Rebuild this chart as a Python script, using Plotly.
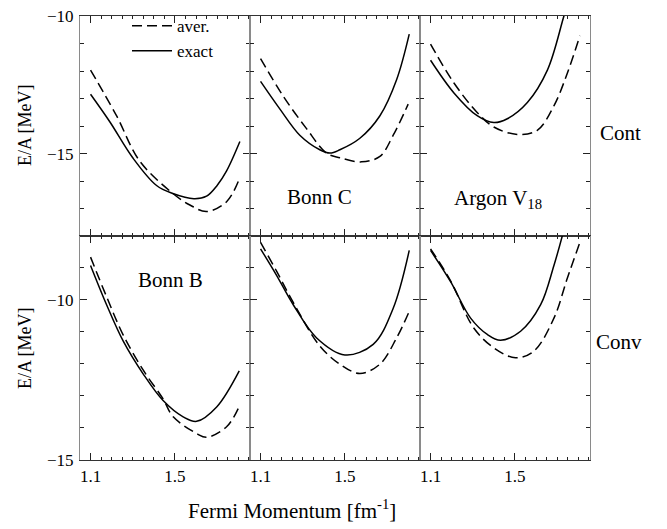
import plotly.graph_objects as go

# ---------------- data ----------------
# Column panels: Bonn B, Bonn C, Argon V18 ; rows: Cont (top), Conv (bottom)
bonnb_cont_aver_x = [1.10, 1.223, 1.334, 1.492, 1.571, 1.650, 1.745, 1.808]
bonnb_cont_aver_y = [-11.96, -13.62, -15.28, -16.46, -16.87, -17.11, -16.75, -15.87]
bonnb_cont_exact_x = [1.10, 1.192, 1.30, 1.413, 1.49, 1.59, 1.65, 1.70, 1.745, 1.808]
bonnb_cont_exact_y = [-12.84, -13.85, -15.15, -16.16, -16.45, -16.64, -16.55, -16.16, -15.63, -14.56]

bonnc_cont_aver_x = [1.10, 1.207, 1.318, 1.413, 1.476, 1.579, 1.666, 1.729, 1.80]
bonnc_cont_aver_y = [-11.54, -12.90, -14.09, -14.98, -15.15, -15.30, -15.10, -14.33, -13.20]
bonnc_cont_exact_x = [1.10, 1.192, 1.286, 1.381, 1.429, 1.476, 1.571, 1.666, 1.745, 1.805]
bonnc_cont_exact_y = [-12.37, -13.38, -14.33, -14.86, -14.98, -14.86, -14.44, -13.62, -12.31, -10.65]

argon_cont_aver_x = [1.10, 1.211, 1.321, 1.40, 1.511, 1.606, 1.685, 1.748, 1.808]
argon_cont_aver_y = [-11.01, -12.43, -13.50, -14.03, -14.30, -14.15, -13.26, -12.08, -10.71]
argon_cont_exact_x = [1.10, 1.211, 1.321, 1.40, 1.464, 1.559, 1.654, 1.732, 1.77]
argon_cont_exact_y = [-11.60, -12.79, -13.62, -13.87, -13.73, -13.14, -11.96, -10.0, -9.0]

bonnb_conv_aver_x = [1.10, 1.176, 1.255, 1.35, 1.444, 1.492, 1.603, 1.650, 1.745, 1.80]
bonnb_conv_aver_y = [-8.66, -9.90, -11.10, -12.20, -13.10, -13.66, -14.18, -14.30, -13.97, -13.40]
bonnb_conv_exact_x = [1.10, 1.176, 1.255, 1.35, 1.444, 1.539, 1.603, 1.698, 1.805]
bonnb_conv_exact_y = [-8.92, -10.15, -11.29, -12.32, -13.15, -13.66, -13.80, -13.35, -12.22]

bonnc_conv_aver_x = [1.10, 1.176, 1.255, 1.381, 1.476, 1.571, 1.666, 1.745, 1.805]
bonnc_conv_aver_y = [-8.20, -9.10, -10.08, -11.44, -12.01, -12.30, -12.01, -11.19, -10.36]
bonnc_conv_exact_x = [1.10, 1.176, 1.255, 1.366, 1.50, 1.634, 1.729, 1.805]
bonnc_conv_exact_y = [-8.40, -9.23, -10.15, -11.19, -11.72, -11.39, -10.26, -8.45]

argon_conv_aver_x = [1.10, 1.195, 1.305, 1.40, 1.503, 1.59, 1.685, 1.748, 1.808]
argon_conv_aver_y = [-8.40, -9.40, -10.88, -11.50, -11.81, -11.60, -10.57, -9.33, -8.20]
argon_conv_exact_x = [1.10, 1.195, 1.29, 1.369, 1.432, 1.527, 1.622, 1.685, 1.725]
argon_conv_exact_y = [-8.45, -9.43, -10.57, -11.08, -11.26, -10.98, -10.15, -8.92, -7.99]

series_names = ["aver.", "exact"]
row_labels = ["Cont", "Conv"]
x_ticks = [1.1, 1.5]
y_ticks = [-15, -10]

panels = [
    # (row, col, aver_x, aver_y, exact_x, exact_y)
    (0, 0, bonnb_cont_aver_x, bonnb_cont_aver_y, bonnb_cont_exact_x, bonnb_cont_exact_y),
    (0, 1, bonnc_cont_aver_x, bonnc_cont_aver_y, bonnc_cont_exact_x, bonnc_cont_exact_y),
    (0, 2, argon_cont_aver_x, argon_cont_aver_y, argon_cont_exact_x, argon_cont_exact_y),
    (1, 0, bonnb_conv_aver_x, bonnb_conv_aver_y, bonnb_conv_exact_x, bonnb_conv_exact_y),
    (1, 1, bonnc_conv_aver_x, bonnc_conv_aver_y, bonnc_conv_exact_x, bonnc_conv_exact_y),
    (1, 2, argon_conv_aver_x, argon_conv_aver_y, argon_conv_exact_x, argon_conv_exact_y),
]

# ---------------- figure ----------------
W, H = 667, 529
ML, MR, MT, MB = 80, 77, 8, 69
plot_h = H - MT - MB
split = 228 / plot_h
col_dom = [[0, 1 / 3], [1 / 3, 2 / 3], [2 / 3, 1]]
row_dom = [[split, 1], [0, split]]
y_ranges = [[-18, -9.99], [-15.01, -8]]
FONT = "Liberation Serif, Times New Roman, serif"

fig = go.Figure()
layout = {}
for i, (r, c, ax, ay, ex, ey) in enumerate(panels):
    n = i + 1
    xa = "x" if n == 1 else f"x{n}"
    ya = "y" if n == 1 else f"y{n}"
    first = (i == 0)
    fig.add_trace(go.Scatter(x=ax, y=ay, xaxis=xa, yaxis=ya, mode="lines",
                             name=series_names[0], showlegend=first, legendgroup="a",
                             line=dict(color="black", width=1.5, dash="10px,5px",
                                       shape="spline", smoothing=1.0)))
    fig.add_trace(go.Scatter(x=ex, y=ey, xaxis=xa, yaxis=ya, mode="lines",
                             name=series_names[1], showlegend=first, legendgroup="e",
                             line=dict(color="black", width=1.5,
                                       shape="spline", smoothing=1.0)))
    xkey = "xaxis" if n == 1 else f"xaxis{n}"
    ykey = "yaxis" if n == 1 else f"yaxis{n}"
    layout[xkey] = dict(
        domain=col_dom[c], anchor=ya, range=[1.05, 1.856],
        tickmode="array", tickvals=x_ticks, ticktext=[f"{v:.1f}" for v in x_ticks],
        ticks="inside", ticklen=7, tickwidth=1, tickcolor="#222",
        minor=dict(dtick=0.05, tick0=1.1, ticks="inside", ticklen=3, tickcolor="#222"),
        showline=True, linecolor="#333", linewidth=1.2, mirror="allticks",
        showgrid=False, zeroline=False, showticklabels=(r == 1),
        tickfont=dict(family=FONT, size=17, color="black"),
        ticklabeloverflow="allow",
    )
    layout[ykey] = dict(
        domain=row_dom[r], anchor=xa, range=y_ranges[r],
        tickmode="array", tickvals=y_ticks, ticktext=["\u221215", "\u221210"],
        ticks="inside", ticklen=7, tickwidth=1, tickcolor="#222",
        minor=dict(dtick=1, tick0=-10, ticks="inside", ticklen=4, tickcolor="#222"),
        showline=True, linecolor="#8a8a8a", linewidth=1.2, mirror="allticks",
        showgrid=False, zeroline=False, showticklabels=(c == 0),
        tickfont=dict(family=FONT, size=17, color="black"),
        ticklabelstandoff=2, ticklabeloverflow="allow",
    )

def px_x(p):
    return (p - ML) / (W - ML - MR)

def px_y(p):
    return 1 - (p - MT) / plot_h

annotations = [
    dict(text="E/A [MeV]", x=px_x(25), y=px_y(120), textangle=-90, font=dict(size=18)),
    dict(text="E/A [MeV]", x=px_x(25), y=px_y(347), textangle=-90, font=dict(size=18)),
    dict(text="Fermi Momentum [fm<sup>-1</sup>]", x=px_x(292), y=px_y(510), font=dict(size=21)),
    dict(text=row_labels[0], x=px_x(620), y=px_y(127), font=dict(size=21)),
    dict(text=row_labels[1], x=px_x(619), y=px_y(340), font=dict(size=21)),
    dict(text="Bonn C", x=px_x(319), y=px_y(192), font=dict(size=21)),
    dict(text="Argon V<sub>18</sub>", x=px_x(498), y=px_y(194), font=dict(size=21)),
    dict(text="Bonn B", x=px_x(170), y=px_y(277), font=dict(size=21)),
]
for a in annotations:
    a.update(xref="paper", yref="paper", showarrow=False, xanchor="center", yanchor="middle")
    a["font"].update(family=FONT, color="black")

layout.update(
    width=W, height=H,
    margin=dict(l=ML, r=MR, t=MT, b=MB),
    paper_bgcolor="white", plot_bgcolor="white",
    font=dict(family=FONT, color="black"),
    annotations=annotations,
    legend=dict(x=px_x(127), y=px_y(0), xanchor="left", yanchor="top",
                bgcolor="rgba(0,0,0,0)", borderwidth=0,
                font=dict(family=FONT, size=17, color="black"),
                tracegroupgap=0, itemwidth=40),
)
fig.update_layout(**layout)
fig.write_html("out.html", config={"displayModeBar": False},
               post_script="document.body.style.margin='0px';")
